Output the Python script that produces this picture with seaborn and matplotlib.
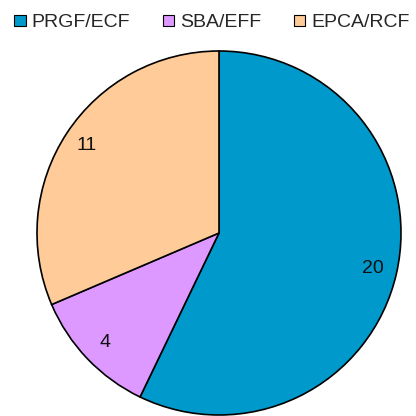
import seaborn as sns
import matplotlib.pyplot as plt
from matplotlib.patches import Patch

# data
programs = ["PRGF/ECF", "SBA/EFF", "EPCA/RCF"]
counts = [20, 4, 11]
colors = ["#0099CC", "#DD99FF", "#FFCC99"]

sns.set_theme(style="white")
plt.rcParams['font.family'] = ['Liberation Sans', 'DejaVu Sans']

fig = plt.figure(figsize=(4.16, 4.16), dpi=100)
# pie centre at (219, 233) px, radius about 182 px
ax = fig.add_axes([(219 - 182) / 416, (416 - 233 - 182) / 416, 364 / 416, 364 / 416])

wedges, texts = ax.pie(counts, labels=[str(c) for c in counts], colors=colors,
                       startangle=90, counterclock=False, labeldistance=0.87,
                       wedgeprops={'edgecolor': 'black', 'linewidth': 1.2},
                       textprops={'fontsize': 14, 'color': '#111111'})
for w in wedges:
    w.set_clip_on(False)
for t in texts:
    t.set_ha('center')
    t.set_va('center')
ax.set_xlim(-1, 1)
ax.set_ylim(-1, 1)
ax.set_aspect('equal')
ax.axis('off')

handles = [Patch(facecolor=c, edgecolor='black', linewidth=0.8) for c in colors]
fig.legend(handles, programs, loc='center', bbox_to_anchor=(0.51, 0.945), ncol=3,
           frameon=False, fontsize=14, handlelength=0.57, handleheight=0.57,
           handletextpad=0.31, columnspacing=1.7)

fig.savefig("out.png", dpi=100)
